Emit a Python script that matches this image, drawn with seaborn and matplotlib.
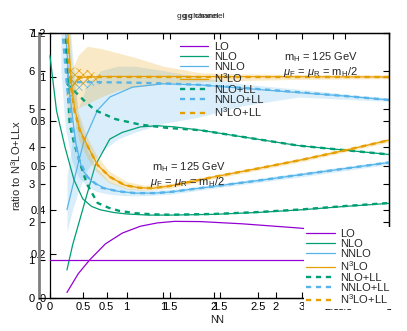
import matplotlib
matplotlib.use("Agg")
import matplotlib.pyplot as plt
from matplotlib.lines import Line2D
from matplotlib.ticker import FuncFormatter
import seaborn as sns

# colours (gnuplot default palette)
c_lo, c_nlo, c_nnlo, c_n3lo = "#9400d3", "#009e73", "#56b4e9", "#e69f00"

# ---- panel A: ratio to LO (x 0..4, y 0..7) ----
A_N_lo = [0.125, 4.0]
A_lo = [1.0, 1.0]
A_N_nlo = [0.125, 0.2, 0.3, 0.4, 0.5, 0.6, 0.7, 0.85, 1.0, 1.25, 1.5, 2.0, 2.5, 3.0, 3.5, 4.0]
A_nlo = [6.4, 4.95, 3.96, 3.12, 2.62, 2.42, 2.33, 2.26, 2.22, 2.19, 2.19, 2.21, 2.26, 2.33, 2.42, 2.50]
A_N_nlo_ll = [0.28, 0.3, 0.35, 0.4, 0.47, 0.55, 0.67, 0.8, 0.92, 1.1, 1.3, 1.5, 2.0, 2.5, 3.0, 3.5, 4.0]
A_nlo_ll = [8.5, 7.0, 4.6, 4.1, 3.55, 3.0, 2.51, 2.38, 2.30, 2.24, 2.21, 2.20, 2.22, 2.27, 2.34, 2.43, 2.51]
A_N_nnlo = [0.29, 0.3, 0.35, 0.42, 0.49, 0.6, 0.75, 0.9, 1.1, 1.32, 1.5, 2.0, 2.5, 3.0, 3.5, 4.0]
A_nnlo = [8.5, 7.2, 5.4, 4.1, 3.4, 3.08, 2.9, 2.82, 2.77, 2.77, 2.8, 2.95, 3.1, 3.26, 3.42, 3.58]
A_N_nnlo_ll = [0.24, 0.27, 0.32, 0.38, 0.45, 0.55, 0.7, 0.9, 1.1, 1.32, 1.5, 2.0, 2.5, 3.0, 3.5, 4.0]
A_nnlo_ll = [9.0, 7.0, 5.6, 4.5, 3.7, 3.2, 2.92, 2.82, 2.77, 2.77, 2.8, 2.95, 3.1, 3.26, 3.42, 3.58]
A_N_n3lo = [0.31, 0.33, 0.376, 0.41, 0.467, 0.58, 0.67, 0.81, 0.98, 1.15, 1.3, 1.5, 2.0, 2.5, 3.0, 3.5, 4.0]
A_n3lo = [8.5, 7.0, 5.5, 4.97, 4.44, 3.9, 3.51, 3.2, 2.98, 2.91, 2.9, 2.96, 3.2, 3.42, 3.65, 3.9, 4.17]
A_N_n3lo_ll = [0.3, 0.32, 0.36, 0.4, 0.467, 0.58, 0.67, 0.81, 0.98, 1.15, 1.3, 1.5, 2.0, 2.5, 3.0, 3.5, 4.0]
A_n3lo_ll = [8.5, 7.0, 5.7, 5.0, 4.42, 3.9, 3.51, 3.2, 2.98, 2.91, 2.9, 2.96, 3.2, 3.42, 3.65, 3.9, 4.17]

A_N_band = [0.25, 0.3, 0.38, 0.45, 0.55, 0.65, 0.8, 1.0, 1.2, 1.5, 2.0, 3.0, 4.0]
A_n3lo_lo = [8.0, 7.2, 5.0, 4.2, 3.7, 3.35, 3.05, 2.88, 2.84, 2.9, 3.15, 3.6, 4.12]
A_n3lo_hi = [9.0, 9.0, 6.0, 4.9, 4.25, 3.8, 3.35, 3.08, 2.98, 3.02, 3.25, 3.7, 4.22]
A_nnlo_lo = [6.0, 4.5, 3.6, 3.2, 2.95, 2.82, 2.74, 2.7, 2.7, 2.74, 2.9, 3.2, 3.53]
A_nnlo_hi = [9.0, 9.0, 6.5, 4.8, 3.9, 3.45, 3.08, 2.9, 2.85, 2.86, 3.0, 3.32, 3.63]

# ---- panel B: ratio to N3LO+LL (x 0..3, y 0..1.2) ----
B_N_lo = [0.15, 0.25, 0.35, 0.49, 0.64, 0.8, 0.95, 1.1, 1.33, 1.7, 2.2, 2.6, 3.0]
B_lo = [0.025, 0.11, 0.172, 0.245, 0.294, 0.325, 0.34, 0.347, 0.346, 0.336, 0.317, 0.298, 0.276]
B_N_nlo = [0.15, 0.2, 0.3, 0.4, 0.53, 0.64, 0.8, 0.95, 1.1, 1.33, 1.7, 2.2, 2.6, 3.0]
B_nlo = [0.127, 0.24, 0.42, 0.6, 0.72, 0.75, 0.775, 0.78, 0.775, 0.76, 0.73, 0.69, 0.67, 0.65]
B_N_nlo_ll = [0.15, 0.25, 0.31, 0.4, 0.58, 0.8, 1.04, 1.33, 1.7, 2.2, 2.6, 3.0]
B_nlo_ll = [0.97, 0.92, 0.89, 0.85, 0.81, 0.785, 0.77, 0.76, 0.73, 0.69, 0.67, 0.65]
B_N_nnlo = [0.15, 0.24, 0.3, 0.42, 0.53, 0.73, 1.0, 1.33, 1.7, 2.2, 2.6, 3.0]
B_nnlo = [0.40, 0.59, 0.71, 0.85, 0.91, 0.955, 0.97, 0.965, 0.95, 0.93, 0.915, 0.897]
B_N_nnlo_ll = [0.15, 0.3, 0.5, 0.75, 1.0, 1.33, 1.7, 2.2, 2.6, 3.0]
B_nnlo_ll = [0.975, 0.978, 0.977, 0.975, 0.972, 0.965, 0.952, 0.932, 0.915, 0.897]
B_N_n3lo = [0.15, 0.2, 0.24, 0.3, 0.5, 1.0, 2.0, 3.0]
B_n3lo = [0.92, 0.96, 0.99, 1.0, 1.003, 1.003, 1.002, 1.001]
B_N_n3lo_ll = [0.15, 3.0]
B_n3lo_ll = [1.0, 1.0]

B_N_band = [0.15, 0.2, 0.25, 0.33, 0.45, 0.6, 0.75, 1.0, 1.33, 1.7, 2.2, 3.0]
B_n3lo_lo = [0.79, 0.83, 0.86, 0.88, 0.91, 0.94, 0.955, 0.97, 0.98, 0.985, 0.99, 0.993]
B_n3lo_hi = [0.94, 1.04, 1.1, 1.14, 1.13, 1.11, 1.09, 1.05, 1.02, 1.015, 1.012, 1.01]
B_nnlo_lo = [0.30, 0.40, 0.48, 0.58, 0.66, 0.72, 0.75, 0.79, 0.82, 0.87, 0.91, 0.89]
B_nnlo_hi = [0.55, 0.72, 0.86, 0.97, 1.03, 1.05, 1.05, 1.03, 1.0, 0.97, 0.945, 0.905]
B_N_hatch = [0.15, 0.25, 0.35, 0.45]
B_n3lo_ll_lo = [0.95, 0.96, 0.975, 0.99]
B_n3lo_ll_hi = [1.05, 1.04, 1.03, 1.01]
B_nnlo_ll_lo = [0.90, 0.93, 0.955, 0.97]
B_nnlo_ll_hi = [1.0, 0.995, 0.99, 0.98]

labels = ["LO", "NLO", "NNLO", "N$^3$LO", "NLO+LL", "NNLO+LL", "N$^3$LO+LL"]
colors = [c_lo, c_nlo, c_nnlo, c_n3lo, c_nlo, c_nnlo, c_n3lo]
dash = (0, (2.2, 2.0))
styles = ["-", "-", "-", "-", dash, dash, dash]
widths = [0.9, 0.9, 0.9, 0.9, 1.7, 1.7, 1.7]

sns.set_style("ticks")
plt.rcParams["font.family"] = ["Liberation Sans", "DejaVu Sans"]
plt.rcParams["mathtext.fontset"] = "custom"
plt.rcParams["mathtext.rm"] = "Liberation Sans"
plt.rcParams["mathtext.it"] = "Liberation Sans:italic"
plt.rcParams["hatch.linewidth"] = 0.5

W, H = 407, 331
fig = plt.figure(figsize=(W / 100, H / 100), dpi=100)
axB = fig.add_axes([50 / W, 33 / H, (389 - 50) / W, (298 - 33) / H])
axA = fig.add_axes([39 / W, 33 / H, (389 - 39) / W, (298 - 33) / H])
for ax in (axA, axB):
    ax.patch.set_alpha(0)

# bands
axB.fill_between(B_N_band, B_nnlo_lo, B_nnlo_hi, color=c_nnlo, alpha=0.22, lw=0)
axB.fill_between(B_N_band, B_n3lo_lo, B_n3lo_hi, color=c_n3lo, alpha=0.22, lw=0)
axB.fill_between(B_N_hatch, B_nnlo_ll_lo, B_nnlo_ll_hi, facecolor="none",
                 edgecolor=c_nnlo, hatch="xxxx", lw=0)
axB.fill_between(B_N_hatch, B_n3lo_ll_lo, B_n3lo_ll_hi, facecolor="none",
                 edgecolor=c_n3lo, hatch="xxxx", lw=0)
axA.fill_between(A_N_band, A_nnlo_lo, A_nnlo_hi, color=c_nnlo, alpha=0.22, lw=0)
axA.fill_between(A_N_band, A_n3lo_lo, A_n3lo_hi, color=c_n3lo, alpha=0.22, lw=0)

seriesB = [(B_N_lo, B_lo), (B_N_nlo, B_nlo), (B_N_nnlo, B_nnlo), (B_N_n3lo, B_n3lo),
           (B_N_nlo_ll, B_nlo_ll), (B_N_nnlo_ll, B_nnlo_ll), (B_N_n3lo_ll, B_n3lo_ll)]
seriesA = [(A_N_lo, A_lo), (A_N_nlo, A_nlo), (A_N_nnlo, A_nnlo), (A_N_n3lo, A_n3lo),
           (A_N_nlo_ll, A_nlo_ll), (A_N_nnlo_ll, A_nnlo_ll), (A_N_n3lo_ll, A_n3lo_ll)]

for ax, series in ((axB, seriesB), (axA, seriesA)):
    for (xs, ys), col, ls, lw in zip(series, colors, styles, widths):
        sns.lineplot(x=xs, y=ys, ax=ax, color=col, linestyle=ls, linewidth=lw,
                     legend=False, sort=False)

handles = [Line2D([], [], color=c, linestyle=s, linewidth=w)
           for c, s, w in zip(colors, styles, widths)]

fmt = FuncFormatter(lambda v, p: "%g" % v)
axA.set_xlim(0, 4)
axA.set_ylim(0, 7)
axA.set_xticks([0, 0.5, 1, 1.5, 2, 2.5, 3, 3.5, 4])
axA.set_yticks(range(8))
axB.set_xlim(0, 3)
axB.set_ylim(0, 1.2)
axB.set_xticks([0, 0.5, 1, 1.5, 2, 2.5, 3])
axB.set_yticks([0, 0.2, 0.4, 0.6, 0.8, 1.0, 1.2])
for ax in (axA, axB):
    ax.xaxis.set_major_formatter(fmt)
    ax.yaxis.set_major_formatter(fmt)
    ax.tick_params(direction="in", length=4, width=0.8, top=True, right=True,
                   labelsize=8, pad=3, colors="black")
    ax.set_xlabel("N", fontsize=8, labelpad=2)
    for sp in ax.spines.values():
        sp.set_linewidth(0.9)
        sp.set_color("black")
axA.spines["left"].set_color("#7f7f7f")
axA.spines["left"].set_linewidth(2.0)

# two overlapping titles, as in the reference
fig.text(198 / W, 1 - 17 / H, "gg channel", fontsize=6, ha="center", va="center")
fig.text(204 / W, 1 - 17 / H, "gg channel", fontsize=6, ha="center", va="center")

fig.text(16 / W, 0.5, "ratio to N$^3$LO+LLx", rotation=90, fontsize=8,
         ha="center", va="center")

legB = axB.legend(handles, labels, loc="upper left", bbox_to_anchor=(174 / W, 1 - 36 / H),
                  bbox_transform=fig.transFigure, frameon=False, fontsize=8,
                  handlelength=2.6, handletextpad=0.5, labelspacing=0.0, borderpad=0)
legA = axA.legend(handles, labels, loc="upper left", bbox_to_anchor=(298 / W, 1 - 221 / H),
                  bbox_transform=fig.transFigure, frameon=True, fancybox=False,
                  facecolor="white", edgecolor="none", framealpha=1, fontsize=8,
                  handlelength=2.6, handletextpad=0.5, labelspacing=0.0, borderpad=0.2)

fig.text(284 / W, 1 - 57 / H, "m$_\\mathrm{H}$ = 125 GeV", fontsize=8, va="center")
fig.text(283 / W, 1 - 72 / H, "$\\mu_\\mathrm{F}$ = $\\mu_\\mathrm{R}$ = m$_\\mathrm{H}$/2",
         fontsize=8, va="center")
fig.text(152 / W, 1 - 167 / H, "m$_\\mathrm{H}$ = 125 GeV", fontsize=8, va="center")
fig.text(150 / W, 1 - 182 / H, "$\\mu_\\mathrm{F}$ = $\\mu_\\mathrm{R}$ = m$_\\mathrm{H}$/2",
         fontsize=8, va="center")

fig.savefig("out.png", dpi=100, facecolor="white")
